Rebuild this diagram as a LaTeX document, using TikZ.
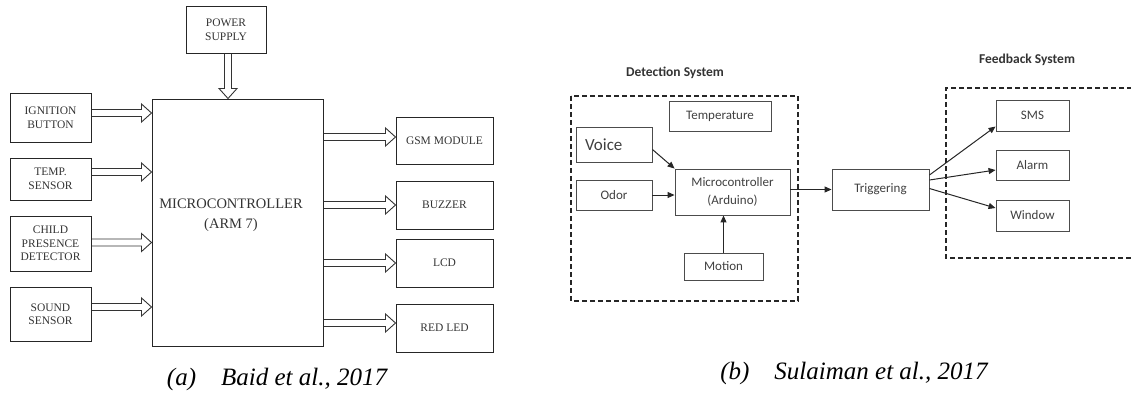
\documentclass[tikz,border=0pt]{standalone}
\usepackage{fontspec}
\setmainfont{Liberation Serif}
\newfontfamily\calibri{Carlito}
\usetikzlibrary{arrows.meta, positioning, calc}

\begin{document}
\begin{tikzpicture}[x=1pt, y=-1pt,
    lbox/.style={draw, line width=1pt, black!85, text=black!80, align=center, inner sep=0pt,
        font=\fontsize{11.5}{13.5}\selectfont},
    % outlined block arrow: shaft 7pt wide, head 18pt wide and 10pt long
    hollow/.style={draw, line width=0.9pt, black!80, line join=miter,
        to path={let \p1=($(\tikztotarget)-(\tikztostart)$), \n1={veclen(\x1,\y1)},
            \p2=({\x1/\n1},{\y1/\n1}) in
            ($(\tikztostart)+({-3.5*\y2},{3.5*\x2})$)
            -- ($(\tikztotarget)+({-10*\x2-3.5*\y2},{-10*\y2+3.5*\x2})$)
            -- ($(\tikztotarget)+({-10*\x2-9*\y2},{-10*\y2+9*\x2})$)
            -- (\tikztotarget)
            -- ($(\tikztotarget)+({-10*\x2+9*\y2},{-10*\y2-9*\x2})$)
            -- ($(\tikztotarget)+({-10*\x2+3.5*\y2},{-10*\y2-3.5*\x2})$)
            -- ($(\tikztostart)+({3.5*\y2},{-3.5*\x2})$)}},
    rbox/.style={draw, line width=0.9pt, black!70, text=black!75, align=center, inner sep=0pt,
        font=\calibri\fontsize{13}{18}\selectfont},
    link/.style={line width=1pt, black!85, -{Triangle[length=7pt, width=6pt]}},
    grp/.style={dash pattern=on 5pt off 3pt, line width=1.4pt, black!85},
    gtitle/.style={text=black!80, font=\calibri\bfseries\fontsize{13.5}{16}\selectfont},
    captext/.style={font=\fontsize{25}{30}\selectfont\itshape}]
    \useasboundingbox (0,0) rectangle (1131,397);
    % (a) microcontroller board
    \node [lbox, minimum width=80, minimum height=47] (power) at (226,29.5) {POWER\\SUPPLY};
    \node [lbox, minimum width=171, minimum height=247] (mcu) at (237.5,222.5) {};
    \node [text=black!80, align=center, font=\fontsize{14.5}{20}\selectfont] (mcutext) at (231,215)
        {MICROCONTROLLER\\(ARM 7)};
    \node [lbox, minimum width=81, minimum height=49] (ign) at (50.5,117.5) {IGNITION\\BUTTON};
    \node [lbox, minimum width=81, minimum height=42] (temp) at (50.5,179) {TEMP.\\SENSOR};
    \node [lbox, minimum width=81, minimum height=55] (child) at (50.5,243.5) {CHILD\\PRESENCE\\DETECTOR};
    \node [lbox, minimum width=81, minimum height=54] (sound) at (50.5,314) {SOUND\\SENSOR};
    \node [lbox, minimum width=97, minimum height=47] (gsm) at (444.5,140.5) {GSM MODULE};
    \node [lbox, minimum width=97, minimum height=48] (buzz) at (444.5,205) {BUZZER};
    \node [lbox, minimum width=97, minimum height=48] (lcd) at (444.5,263) {LCD};
    \node [lbox, minimum width=97, minimum height=48] (led) at (444.5,328) {RED LED};
    \draw [hollow] ([xshift=2pt]power.south) to ([xshift=2pt]power.south |- mcu.north);
    \foreach \src/\dy in {ign/4.5, temp/7, child/1, sound/7}
        \draw [hollow] ([yshift=\dy pt]\src.east) to ([yshift=\dy pt]\src.east -| mcu.west);
    \foreach \dst/\dy in {gsm/3.5, buzz/0, lcd/0, led/5}
        \draw [hollow] ([yshift=\dy pt]\dst.west -| mcu.east) to ([yshift=\dy pt]\dst.west);
    \node [captext] (capA) at (277,379) {(a)\quad Baid et al., 2017};
    % (b) detection and feedback
    \draw [grp] (571,96) rectangle (798,301);
    \draw [grp] (1140,88) -- (946,88) -- (946,258) -- (1140,258);
    \node [gtitle] (detect) at (675,73) {Detection System};
    \node [gtitle] (feedback) at (1027,60) {Feedback System};
    \node [rbox, minimum width=102, minimum height=30] (tempr) at (720,116) {Temperature};
    \node [rbox, minimum width=76, minimum height=35, text width=58pt, align=left,
        font=\calibri\fontsize{17}{20}\selectfont] (voice) at (614,144.5) {Voice};
    \node [rbox, minimum width=76, minimum height=30] (odor) at (614,195) {Odor};
    \node [rbox, minimum width=115, minimum height=46] (ardu) at (732.5,192) {Microcontroller\\(Arduino)};
    \node [rbox, minimum width=79, minimum height=27] (motion) at (723.5,266.5) {Motion};
    \node [rbox, minimum width=97, minimum height=41] (trig) at (880.5,189.5) {Triggering};
    \node [rbox, minimum width=73, minimum height=31] (sms) at (1032.5,115.5) {SMS};
    \node [rbox, minimum width=73, minimum height=30] (alarm) at (1032.5,165) {Alarm};
    \node [rbox, minimum width=73, minimum height=31] (window) at (1032.5,215.5) {Window};
    \draw [link] ([yshift=-5pt]voice.east) -- (ardu.north west);
    \draw [link] (odor.east) -- (odor.east -| ardu.west);
    \draw [link] (motion.north) -- (motion.north |- ardu.south);
    \draw [link] (trig.west -| ardu.east) -- (trig.west);
    \draw [link] ([yshift=14.5pt]trig.east) -- ([yshift=-11pt]sms.west);
    \draw [link] ([yshift=9.5pt]trig.east) -- ([yshift=-5pt]alarm.west);
    \draw [link] ([yshift=1pt]trig.east) -- ([yshift=7.5pt]window.west);
    \node [captext] (capB) at (854,373) {(b)\quad Sulaiman et al., 2017};
\end{tikzpicture}
\end{document}
